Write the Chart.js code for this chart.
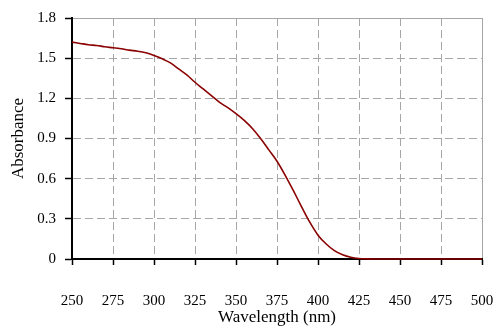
<!DOCTYPE html>
<html>
<head>
<meta charset="utf-8">
<script src="https://cdn.jsdelivr.net/npm/chart.js@4/dist/chart.umd.min.js"></script>
<style>
  html, body { margin: 0; padding: 0; background: #fff; }
  #wrap { width: 496px; height: 331px; }
</style>
</head>
<body>
<div id="wrap"><canvas id="chart"></canvas></div>
<script>
// absorbance spectrum, values every 5 nm
const wavelengths = [250, 255, 260, 265, 270, 275, 280, 285, 290, 295, 300, 305, 310, 315, 320, 325, 330, 335, 340, 345,
  350, 355, 360, 365, 370, 375, 380, 385, 390, 395, 400, 405, 410, 415, 420, 425, 430, 435, 440, 445,
  450, 455, 460, 465, 470, 475, 480, 485, 490, 495, 500];
const absorbance = [1.62, 1.61, 1.60, 1.595, 1.585, 1.578, 1.57, 1.56, 1.552, 1.54, 1.52, 1.495, 1.465, 1.42, 1.375, 1.32, 1.27, 1.22, 1.17, 1.13,
  1.085, 1.035, 0.975, 0.90, 0.815, 0.73, 0.625, 0.51, 0.39, 0.275, 0.178, 0.112, 0.063, 0.032, 0.013, 0.004, 0.001, 0, 0, 0,
  0, 0, 0, 0, 0, 0, 0, 0, 0, 0, 0];
const xTicks = [250, 275, 300, 325, 350, 375, 400, 425, 450, 475, 500];
const yTicks = [0, 0.3, 0.6, 0.9, 1.2, 1.5, 1.8];

const family = "'Liberation Serif', 'Times New Roman', serif";
const tickFont = { family, size: 15 };
const titleFont = { family, size: 17 };
const gridGray = "#a6a6a6";

function dashUnlessLast(last) {
  return (ctx) => (ctx.tick && Math.abs(ctx.tick.value - last) < 1e-6 ? [] : [8, 4]);
}

new Chart(document.getElementById("chart"), {
  type: "line",
  data: {
    datasets: [{
      data: wavelengths.map((w, i) => ({ x: w, y: absorbance[i] })),
      borderColor: "#8b0000",
      borderWidth: 1.6,
      pointRadius: 0,
      cubicInterpolationMode: "monotone",
      clip: 4,
    }],
  },
  options: {
    responsive: true,
    maintainAspectRatio: false,
    animation: false,
    layout: { padding: { left: 0, right: 14, top: 13, bottom: 0 } },
    plugins: { legend: { display: false }, tooltip: { enabled: false } },
    scales: {
      x: {
        type: "linear",
        min: 250, max: 500,
        afterBuildTicks: (s) => { s.ticks = xTicks.map((v) => ({ value: v })); },
        afterFit: (s) => { s.height = 72; s.paddingLeft = 0; s.paddingRight = 0; },
        ticks: { color: "#000", font: tickFont, padding: 27, maxRotation: 0, callback: (v) => String(v) },
        grid: { color: gridGray, lineWidth: 1, tickColor: "#000", tickLength: 6, tickWidth: 1.5 },
        border: { color: "#000", width: 2, dash: dashUnlessLast(500) },
        title: { display: true, text: "Wavelength (nm)", color: "#000", font: titleFont, padding: { top: 0, bottom: 3 } },
      },
      y: {
        min: 0, max: 1.8,
        afterBuildTicks: (s) => { s.ticks = yTicks.map((v) => ({ value: v })); },
        afterFit: (s) => { s.width = 72; },
        ticks: { color: "#000", font: tickFont, padding: 9, callback: (v) => (v === 0 ? "0" : v.toFixed(1)) },
        grid: { color: gridGray, lineWidth: 1, tickColor: "#000", tickLength: 7, tickWidth: 1.5 },
        border: { color: "#000", width: 2, dash: dashUnlessLast(1.8) },
        title: { display: true, text: "Absorbance", color: "#000", font: titleFont, padding: { top: 8, bottom: 0 } },
      },
    },
  },
});
</script>
</body>
</html>
